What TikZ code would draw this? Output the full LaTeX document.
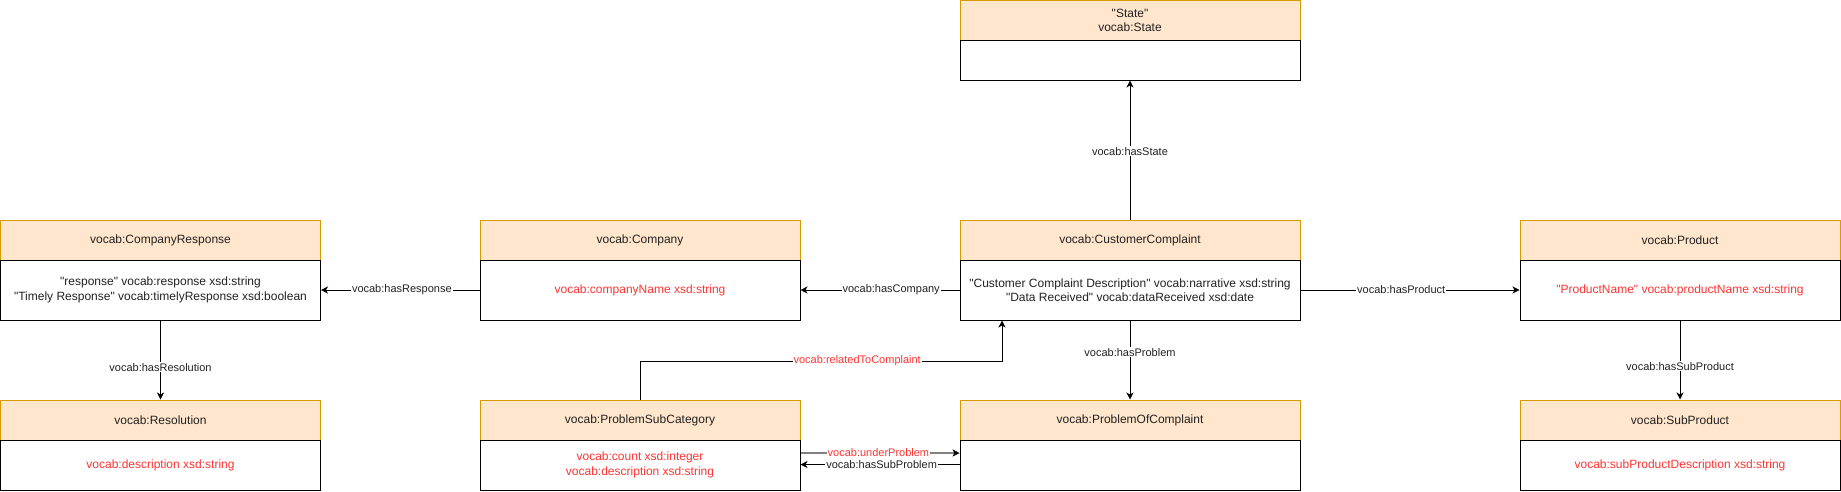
\documentclass[tikz,border=0pt]{standalone}
\usepackage{fontspec}
\newfontfamily\plainsans{Liberation Sans}
\usetikzlibrary{arrows.meta}
\definecolor{hdrfill}{HTML}{FFE6CC}
\definecolor{hdrdraw}{HTML}{D79B00}
\definecolor{redtxt}{HTML}{FF3333}
\definecolor{grayline}{HTML}{808080}
\definecolor{txt}{HTML}{222222}
\begin{document}
\begin{tikzpicture}[x=1pt,y=-1pt,
  hdr/.style={rectangle, draw=hdrdraw, fill=hdrfill, line width=1pt, minimum width=320pt, minimum height=40pt, inner sep=0pt, text=txt, font=\plainsans\fontsize{12}{14}\selectfont, align=center},
  bodybox/.style={rectangle, draw=black, fill=white, line width=1pt, minimum width=320pt, inner sep=0pt, text=txt, font=\plainsans\fontsize{12}{14.5}\selectfont, align=center},
  wide/.style={minimum width=340pt},
  lbl/.style={fill=white, inner sep=1pt, text=txt, font=\plainsans\fontsize{11}{13}\selectfont},
  redlbl/.style={lbl, text=redtxt},
  tip/.style={-{Stealth[length=7pt,width=7pt,inset=2pt]}},
  conn/.style={draw=black, line width=1pt, tip}]
\useasboundingbox (0,0) rectangle (1841,491);

% headers
\node[hdr, wide] (sth) at (1130,20) {"State"\\vocab:State};
\node[hdr] (crh) at (160.5,240) {vocab:CompanyResponse};
\node[hdr] (resh) at (160.5,420) {vocab:Resolution};
\node[hdr] (coh) at (640,240) {vocab:Company};
\node[hdr] (psch) at (640,420) {vocab:ProblemSubCategory};
\node[hdr, wide] (cch) at (1130,240) {vocab:CustomerComplaint};
\node[hdr, wide] (poch) at (1130,420) {vocab:ProblemOfComplaint};
\node[hdr] (prh) at (1680,240) {vocab:Product};
\node[hdr] (sph) at (1680,420) {vocab:SubProduct};

% bodies
\node[bodybox, wide, minimum height=40pt] (stb) at (1130,60) {};
\node[bodybox, minimum height=60pt] (crb) at (160.5,290) {"response" vocab:response xsd:string\\"Timely Response" vocab:timelyResponse xsd:boolean};
\node[bodybox, minimum height=50pt, text=redtxt] (resb) at (160.5,465) {vocab:description xsd:string};
\node[bodybox, minimum height=60pt, text=redtxt] (cob) at (640,290) {vocab:companyName xsd:string};
\node[bodybox, minimum height=50pt, text=redtxt] (pscb) at (640,465) {vocab:count xsd:integer\\vocab:description xsd:string};
\node[bodybox, wide, minimum height=60pt] (ccb) at (1130,290) {"Customer Complaint Description" vocab:narrative xsd:string\\"Data Received" vocab:dataReceived xsd:date};
\node[bodybox, wide, minimum height=50pt] (pocb) at (1130,465) {};
\node[bodybox, minimum height=60pt, text=redtxt] (prb) at (1680,290) {"ProductName" vocab:productName xsd:string};
\node[bodybox, minimum height=50pt, text=redtxt] (spb) at (1680,465) {vocab:subProductDescription xsd:string};

% connectors
\draw[conn] (cch.north) -- node[lbl, pos=0.49] {vocab:hasState} (stb.south);
\draw[conn] (ccb.west) -- node[lbl, pos=0.43] {vocab:hasCompany} (cob.east);
\draw[conn] (cob.west) -- node[lbl, pos=0.49] {vocab:hasResponse} (crb.east);
\draw[conn] (crb.south) -- node[lbl, pos=0.59] {vocab:hasResolution} (resh.north);
\draw[conn] (ccb.east) -- node[lbl, pos=0.46] {vocab:hasProduct} (prb.west);
\draw[conn] (prb.south) -- node[lbl, pos=0.58] {vocab:hasSubProduct} (sph.north);
\draw[conn] (ccb.south) -- node[lbl, pos=0.4] {vocab:hasProblem} (poch.north);

\coordinate (rc) at (1002,361);
\draw[conn] (psch.north) |- node[redlbl, pos=0.8] {vocab:relatedToComplaint} (rc) -- (rc |- ccb.south);

\draw[draw=grayline, line width=2pt, -{Stealth[length=7pt,width=7pt,inset=2pt,color=black,line width=0.5pt]}]
  ([yshift=12pt]pscb.east) -- node[redlbl, pos=0.49] {vocab:underProblem} ([yshift=12pt]pocb.west);
\draw[conn] ([yshift=0.5pt]pocb.west) -- node[lbl, pos=0.49] {vocab:hasSubProblem} ([yshift=0.5pt]pscb.east);
\end{tikzpicture}
\end{document}
